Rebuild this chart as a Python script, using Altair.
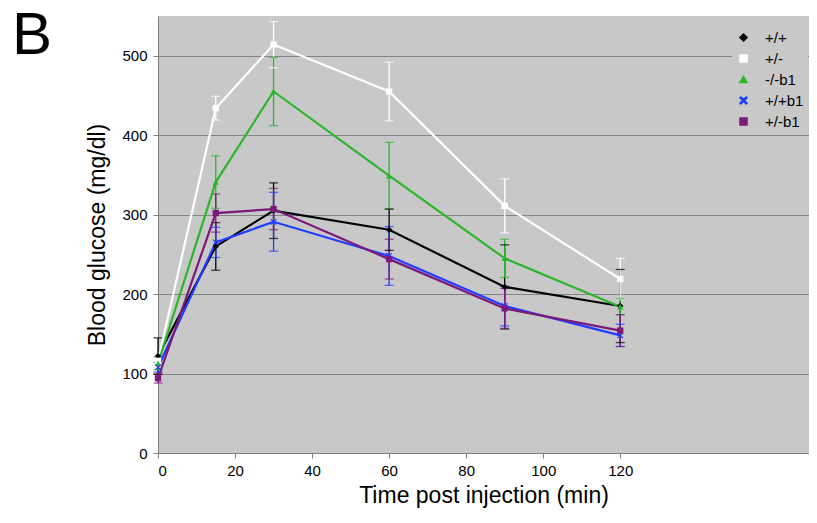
import altair as alt
import pandas as pd

time = [0, 15, 30, 60, 90, 120]
series = ["+/+", "+/-", "-/-b1", "+/+b1", "+/-b1"]
values = {
    "+/+":   [122, 260, 305, 281, 209, 185],
    "+/-":   [116, 434, 514, 455, 311, 219],
    "-/-b1": [113, 341, 455, 349, 245, 184],
    "+/+b1": [108, 265, 291, 248, 185, 148],
    "+/-b1": [94, 302, 307, 244, 182, 154],
}
errors = {
    "+/+":   [23, 30, 35, 26, 53, 46],
    "+/-":   [8, 15, 29, 37, 34, 26],
    "-/-b1": [8, 33, 43, 42, 24, 10],
    "+/+b1": [6, 19, 37, 37, 25, 14],
    "+/-b1": [6, 24, 26, 25, 25, 20],
}
colors = ["#000000", "#ffffff", "#2db52d", "#1f3cff", "#7b1a7b"]
xshape = "M-1,-0.75L-0.75,-1L0,-0.25L0.75,-1L1,-0.75L0.25,0L1,0.75L0.75,1L0,0.25L-0.75,1L-1,0.75L-0.25,0Z"
shapes = ["diamond", "square", "triangle-up", xshape, "square"]

rows = []
for s in series:
    for t, v, e in zip(time, values[s], errors[s]):
        rows.append({"time": t, "glucose": v, "lo": v - e, "hi": v + e, "genotype": s})
df = pd.DataFrame(rows)

caps = df.melt(id_vars=["time", "genotype"], value_vars=["lo", "hi"], value_name="cap")

FONT = "Liberation Sans"

color = alt.Color("genotype:N", scale=alt.Scale(domain=series, range=colors),
                  sort=series, title=None,
                  legend=alt.Legend(orient="none", legendX=574, legendY=10))
shape = alt.Shape("genotype:N", scale=alt.Scale(domain=series, range=shapes),
                  sort=series, title=None,
                  legend=alt.Legend(orient="none", legendX=574, legendY=10))

x = alt.X("time:Q", scale=alt.Scale(domain=[0, 169], nice=False),
          axis=alt.Axis(values=[0, 20, 40, 60, 80, 100, 120], title="Time post injection (min)",
                        grid=False, tickSize=5, labelPadding=5, titlePadding=6))
y = alt.Y("glucose:Q", scale=alt.Scale(domain=[0, 550], nice=False),
          axis=alt.Axis(values=[0, 100, 200, 300, 400, 500], title="Blood glucose (mg/dl)",
                        grid=True, tickSize=5, labelPadding=6, titlePadding=12))

base = alt.Chart(df)

bars = base.mark_rule(strokeWidth=1.3).encode(
    x=x, y=alt.Y("lo:Q"), y2="hi:Q", color=color)

capm = alt.Chart(caps).mark_tick(orient="horizontal", size=9, thickness=1.3).encode(
    x=alt.X("time:Q"), y=alt.Y("cap:Q"), color=color)

lines = base.mark_line(strokeWidth=2.2).encode(x=x, y=y, color=color, detail="genotype:N",
                                             order=alt.Order("time:Q"))

points = base.mark_point(filled=True, size=40, opacity=1).encode(
    x=x, y=y, color=color, shape=shape)

label = alt.Chart(pd.DataFrame({"t": ["B"]})).mark_text(
    font=FONT, fontSize=60, align="left", baseline="alphabetic", color="#000"
).encode(x=alt.value(-146), y=alt.value(38), text="t:N")

chart = alt.layer(bars, capm, lines, points, label).properties(
    width=651, height=437,
    background="white",
    autosize=alt.AutoSizeParams(type="none"),
    padding={"left": 150, "top": 8, "right": 0, "bottom": 70},
).configure_view(fill="#c8c8c8", strokeWidth=0).configure_axis(
    labelFont=FONT, titleFont=FONT, labelFontSize=15, titleFontSize=23,
    titleFontWeight="normal", labelColor="#000", titleColor="#000",
    domainColor="#808080", tickColor="#808080", gridColor="#858585", gridWidth=1,
    domainWidth=1
).configure_legend(
    fillColor="#c8c8c8", padding=4, labelFontSize=15, labelFont=FONT, labelColor="#000",
    symbolSize=50, symbolStrokeWidth=1.5, symbolOpacity=1, rowPadding=5, labelOffset=14
)

chart.save("out.html", embed_options={"renderer": "svg", "actions": False})
